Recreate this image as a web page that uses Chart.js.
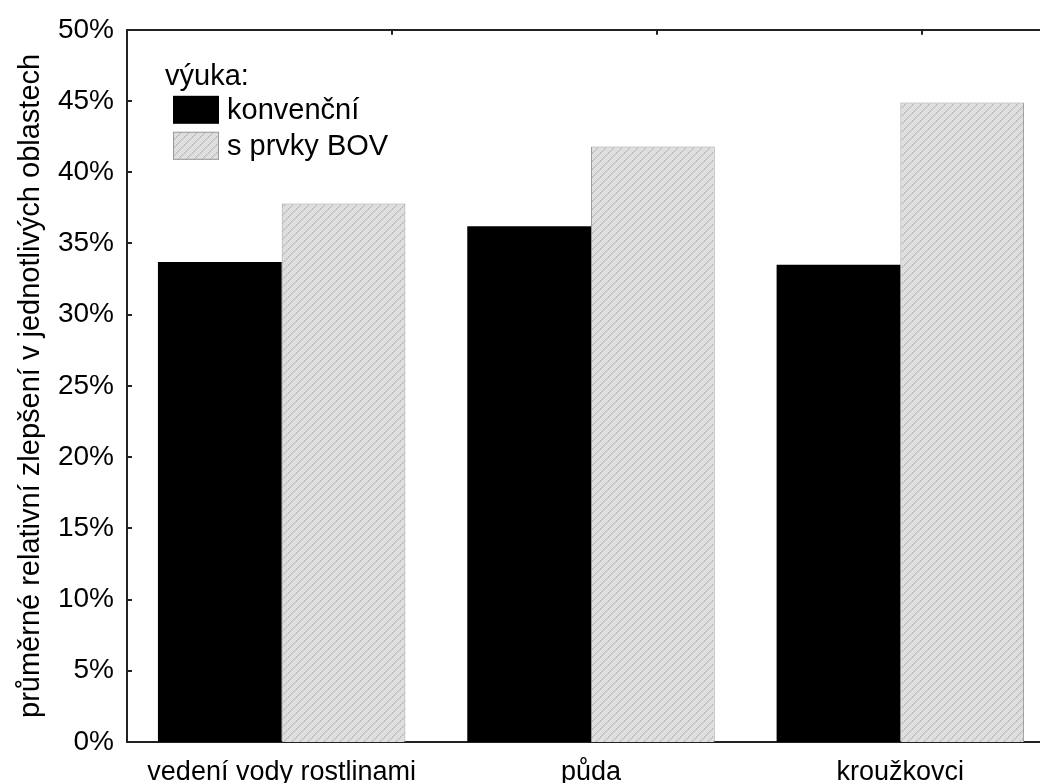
<!DOCTYPE html>
<html>
<head>
<meta charset="utf-8">
<script src="https://cdn.jsdelivr.net/npm/chart.js@4.4.1/dist/chart.umd.min.js"></script>
<style>
  html, body { margin: 0; padding: 0; background: #fff; overflow: hidden; }
  #wrap { width: 1056px; height: 783px; }
</style>
</head>
<body>
<div id="wrap"><canvas id="c" width="1056" height="783"></canvas></div>
<script>
const categories = ['vedení vody rostlinami', 'půda', 'kroužkovci'];
const seriesNames = ['konvenční', 's prvky BOV'];
const konvencni = [33.7, 36.2, 33.5];
const prvkyBOV = [37.8, 41.8, 44.9];
const yTicks = [0, 5, 10, 15, 20, 25, 30, 35, 40, 45, 50];
const topTicks = [1, 2, 3];
const legendTitle = 'výuka:';
const yTitle = 'průměrné relativní zlepšení v jednotlivých oblastech';

const FONT = "'Liberation Sans', Arial, sans-serif";

function makeHatch() {
  const t = document.createElement('canvas');
  t.width = 8; t.height = 8;
  const g = t.getContext('2d');
  g.fillStyle = '#e4e4e4';
  g.fillRect(0, 0, 8, 8);
  for (let x = 0; x < 8; x++) {
    for (let y = 0; y < 8; y++) {
      const d = (x + y) % 8;
      if (d === 0 || d === 1) { g.fillStyle = (x % 2 === 0) ? '#bdbdbd' : '#cfcfcf'; g.fillRect(x, y, 1, 1); }
      else if ((x + y) % 2 === 0) { g.fillStyle = '#d9d9d9'; g.fillRect(x, y, 1, 1); }
    }
  }
  return document.getElementById('c').getContext('2d').createPattern(t, 'repeat');
}
const hatch = makeHatch();

const innerTicks = {
  id: 'innerTicks',
  afterDraw(chart) {
    const ctx = chart.ctx;
    const y = chart.scales.y, x2 = chart.scales.x2;
    const a = chart.chartArea;
    ctx.save();
    ctx.strokeStyle = '#222';
    ctx.lineWidth = 2;
    ctx.beginPath();
    yTicks.forEach(v => {
      const py = Math.round(y.getPixelForValue(v));
      ctx.moveTo(a.left, py); ctx.lineTo(a.left + 5, py);
    });
    topTicks.forEach(v => {
      const px = Math.round(x2.getPixelForValue(v));
      ctx.moveTo(px, a.top); ctx.lineTo(px, a.top + 5);
    });
    ctx.stroke();
    ctx.restore();
  }
};

const customLegend = {
  id: 'customLegend',
  afterDraw(chart) {
    const ctx = chart.ctx;
    const a = chart.chartArea;
    const bx = a.left + 46, tx = a.left + 100;
    ctx.save();
    ctx.font = '29px ' + FONT;
    ctx.fillStyle = '#000';
    ctx.textBaseline = 'middle';
    ctx.textAlign = 'left';
    ctx.fillText(legendTitle, a.left + 38, a.top + 47);
    const rows = [a.top + 66, a.top + 102];
    chart.data.datasets.forEach((ds, i) => {
      ctx.fillStyle = ds.backgroundColor;
      ctx.fillRect(bx, rows[i], 46, 28);
      if (i === 1) {
        ctx.strokeStyle = '#9a9a9a'; ctx.lineWidth = 1;
        ctx.strokeRect(bx + 0.5, rows[i] + 0.5, 45, 27);
      }
      ctx.fillStyle = '#000';
      ctx.fillText(ds.label, tx, rows[i] + 15);
    });
    ctx.restore();
  }
};

new Chart(document.getElementById('c'), {
  type: 'bar',
  data: {
    labels: categories,
    datasets: [
      { label: seriesNames[0], data: konvencni, backgroundColor: '#000000', borderWidth: 0 },
      { label: seriesNames[1], data: prvkyBOV, backgroundColor: hatch, borderColor: '#9a9a9a', borderWidth: 1 }
    ]
  },
  options: {
    responsive: false,
    animation: false,
    events: [],
    layout: { padding: { top: 29, right: 1, left: 0, bottom: 0 } },
    datasets: { bar: { categoryPercentage: 0.8, barPercentage: 1.0 } },
    plugins: { legend: { display: false }, tooltip: { enabled: false } },
    scales: {
      x: {
        type: 'category',
        position: 'bottom',
        grid: { display: false, drawTicks: false },
        border: { display: true, color: '#222', width: 2 },
        ticks: { color: '#000', font: { family: FONT, size: 27 }, padding: 14, maxRotation: 0, autoSkip: false },
        afterFit(s) { s.height = 41; }
      },
      x2: {
        type: 'linear',
        position: 'top',
        offset: false,
        min: 0, max: 3.5,
        grid: { display: false, drawTicks: false, offset: false },
        border: { display: true, color: '#222', width: 2 },
        ticks: { display: false, stepSize: 1 },
        afterFit(s) { s.height = 0; }
      },
      y: {
        min: 0, max: 50,
        afterBuildTicks(s) { s.ticks = yTicks.map(v => ({ value: v })); },
        grid: { display: false, drawTicks: false },
        border: { display: true, color: '#222', width: 2 },
        ticks: { color: '#000', font: { family: FONT, size: 28 }, padding: 13, callback: v => v + '%' },
        title: { display: true, text: yTitle, color: '#000', font: { family: FONT, size: 29 }, padding: { top: 14, bottom: 0 } },
        afterFit(s) { s.width = 127; }
      }
    }
  },
  plugins: [innerTicks, customLegend]
});
</script>
</body>
</html>
